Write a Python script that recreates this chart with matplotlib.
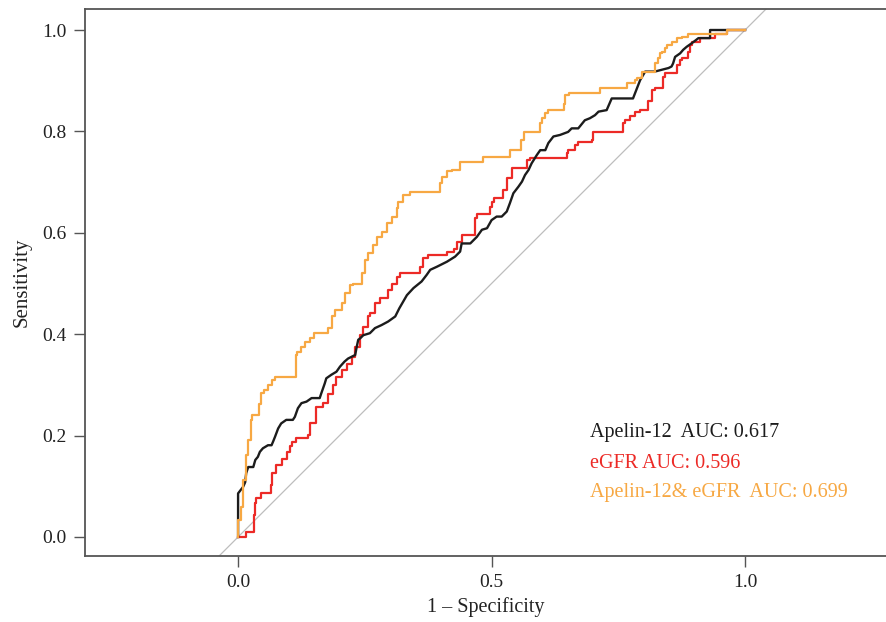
import matplotlib
matplotlib.use("Agg")
import matplotlib.pyplot as plt

plt.rcParams["font.family"] = ["Liberation Serif", "DejaVu Serif"]

# ROC curve points (1 - specificity, sensitivity)
apelin_fpr = [0.0, 0.0, 0.010, 0.014, 0.016, 0.020, 0.030, 0.034, 0.039, 0.043, 0.049, 0.059,
              0.066, 0.069, 0.073, 0.079, 0.085, 0.095, 0.108, 0.112, 0.118, 0.125, 0.135, 0.145,
              0.161, 0.164, 0.171, 0.174, 0.184, 0.194, 0.201, 0.210, 0.217, 0.231, 0.234, 0.237,
              0.241, 0.247, 0.260, 0.270, 0.283, 0.296, 0.310, 0.318, 0.333, 0.346, 0.362, 0.372,
              0.379, 0.392, 0.412, 0.428, 0.438, 0.441, 0.458, 0.471, 0.481, 0.491, 0.500, 0.510,
              0.520, 0.530, 0.536, 0.543, 0.553, 0.560, 0.566, 0.573, 0.579, 0.589, 0.596, 0.606,
              0.612, 0.622, 0.635, 0.651, 0.658, 0.671, 0.684, 0.694, 0.704, 0.711, 0.727, 0.737,
              0.779, 0.793, 0.803, 0.822, 0.849, 0.855, 0.858, 0.862, 0.872, 0.878, 0.885, 0.895,
              0.903, 0.908, 0.931, 0.931, 1.0]
apelin_tpr = [0.0, 0.086, 0.099, 0.108, 0.126, 0.138, 0.138, 0.152, 0.158, 0.168, 0.175, 0.181,
              0.181, 0.188, 0.198, 0.214, 0.224, 0.231, 0.231, 0.237, 0.254, 0.264, 0.267, 0.274,
              0.274, 0.283, 0.303, 0.313, 0.320, 0.326, 0.336, 0.346, 0.352, 0.359, 0.375, 0.389,
              0.392, 0.398, 0.402, 0.412, 0.418, 0.425, 0.435, 0.451, 0.477, 0.491, 0.504, 0.517,
              0.527, 0.533, 0.543, 0.553, 0.563, 0.579, 0.579, 0.592, 0.606, 0.609, 0.625, 0.632,
              0.632, 0.642, 0.658, 0.678, 0.691, 0.701, 0.714, 0.724, 0.737, 0.753, 0.763, 0.763,
              0.777, 0.790, 0.793, 0.799, 0.806, 0.806, 0.822, 0.826, 0.832, 0.839, 0.842, 0.865,
              0.865, 0.901, 0.918, 0.918, 0.925, 0.928, 0.934, 0.947, 0.954, 0.961, 0.967, 0.974,
              0.980, 0.984, 0.984, 1.0, 1.0]

egfr_fpr = [0.0, 0.016, 0.016, 0.031, 0.034, 0.036, 0.045, 0.052, 0.064, 0.067, 0.075, 0.087,
            0.097, 0.103, 0.107, 0.115, 0.138, 0.141, 0.154, 0.168, 0.178, 0.187, 0.194, 0.204,
            0.214, 0.224, 0.231, 0.241, 0.247, 0.257, 0.260, 0.270, 0.280, 0.296, 0.303, 0.313,
            0.320, 0.333, 0.359, 0.365, 0.375, 0.412, 0.425, 0.431, 0.441, 0.444, 0.467, 0.471,
            0.477, 0.497, 0.500, 0.504, 0.523, 0.530, 0.540, 0.540, 0.569, 0.576, 0.579, 0.648,
            0.651, 0.665, 0.671, 0.698, 0.701, 0.724, 0.760, 0.763, 0.773, 0.783, 0.793, 0.809,
            0.816, 0.822, 0.839, 0.842, 0.865, 0.872, 0.875, 0.888, 0.892, 0.895, 0.898, 0.911,
            0.915, 0.941, 0.941, 0.964, 0.964, 1.0]
egfr_tpr = [0.0, 0.0, 0.010, 0.010, 0.043, 0.067, 0.076, 0.086, 0.086, 0.103, 0.126, 0.142,
            0.154, 0.168, 0.179, 0.188, 0.195, 0.201, 0.224, 0.257, 0.264, 0.283, 0.300, 0.316,
            0.329, 0.341, 0.355, 0.375, 0.398, 0.415, 0.435, 0.441, 0.461, 0.471, 0.487, 0.500,
            0.513, 0.520, 0.520, 0.533, 0.550, 0.556, 0.563, 0.569, 0.582, 0.596, 0.596, 0.629,
            0.638, 0.638, 0.651, 0.661, 0.668, 0.684, 0.708, 0.724, 0.727, 0.744, 0.747, 0.747,
            0.757, 0.763, 0.773, 0.780, 0.783, 0.799, 0.799, 0.816, 0.822, 0.830, 0.839, 0.842,
            0.859, 0.882, 0.885, 0.908, 0.915, 0.931, 0.941, 0.944, 0.957, 0.970, 0.977, 0.977,
            0.984, 0.984, 0.990, 0.993, 1.0, 1.0]

combo_fpr = [0.0, 0.005, 0.010, 0.016, 0.020, 0.025, 0.028, 0.033, 0.041, 0.045, 0.051, 0.059,
             0.066, 0.073, 0.079, 0.115, 0.116, 0.124, 0.132, 0.142, 0.149, 0.158, 0.178, 0.185,
             0.191, 0.205, 0.211, 0.221, 0.227, 0.244, 0.250, 0.257, 0.267, 0.274, 0.283, 0.293,
             0.303, 0.313, 0.316, 0.326, 0.339, 0.346, 0.398, 0.402, 0.412, 0.421, 0.438, 0.441,
             0.484, 0.487, 0.536, 0.536, 0.559, 0.563, 0.566, 0.596, 0.599, 0.606, 0.612, 0.622,
             0.642, 0.645, 0.652, 0.655, 0.714, 0.714, 0.767, 0.770, 0.783, 0.786, 0.796, 0.803,
             0.822, 0.829, 0.832, 0.836, 0.842, 0.846, 0.855, 0.865, 0.875, 0.888, 0.898, 0.964,
             0.964, 1.0]
combo_tpr = [0.0, 0.034, 0.060, 0.112, 0.162, 0.191, 0.231, 0.241, 0.241, 0.262, 0.284, 0.290,
             0.300, 0.310, 0.316, 0.316, 0.359, 0.365, 0.375, 0.385, 0.392, 0.402, 0.402, 0.412,
             0.435, 0.448, 0.461, 0.481, 0.497, 0.500, 0.520, 0.546, 0.560, 0.576, 0.592, 0.602,
             0.619, 0.632, 0.648, 0.661, 0.675, 0.681, 0.681, 0.698, 0.711, 0.721, 0.724, 0.740,
             0.740, 0.750, 0.750, 0.763, 0.763, 0.783, 0.799, 0.799, 0.816, 0.826, 0.836, 0.842,
             0.842, 0.855, 0.872, 0.875, 0.875, 0.885, 0.885, 0.895, 0.895, 0.901, 0.905, 0.918,
             0.918, 0.934, 0.944, 0.954, 0.957, 0.964, 0.970, 0.977, 0.984, 0.987, 0.993, 0.993,
             1.0, 1.0]

labels = ["Apelin-12  AUC: 0.617", "eGFR AUC: 0.596", "Apelin-12& eGFR  AUC: 0.699"]
colors = ["#1c1c1c", "#ec2a26", "#f7a843"]

fig = plt.figure(figsize=(8.87, 6.22), dpi=100)
ax = fig.add_axes([0.0958, 0.1061, 0.9042, 0.8794])

xlim = (-0.302, 1.280)
ylim = (-0.0375, 1.0414)

# chance line across the whole panel
ax.plot([-0.1, 1.1], [-0.1, 1.1], color="#bdbdbd", lw=0.9, zorder=1)

ax.plot(apelin_fpr, apelin_tpr, color=colors[0], lw=1.7, zorder=3)
ax.plot(egfr_fpr, egfr_tpr, color=colors[1], lw=1.6, drawstyle="steps-pre", zorder=2)
ax.plot(combo_fpr, combo_tpr, color=colors[2], lw=1.6, drawstyle="steps-pre", zorder=4)

ax.set_xlim(*xlim)
ax.set_ylim(*ylim)

ax.set_xticks([0.0, 0.5, 1.0])
ax.set_xticklabels(["0.0", "0.5", "1.0"])
ax.set_yticks([0.0, 0.2, 0.4, 0.6, 0.8, 1.0])
ax.set_yticklabels(["0.0", "0.2", "0.4", "0.6", "0.8", "1.0"])
ax.tick_params(direction="out", length=8, width=1.0, color="#555555",
               labelsize=14, labelcolor="#222222", pad=5)

for side in ["left", "top", "bottom"]:
    ax.spines[side].set_color("#555555")
    ax.spines[side].set_linewidth(1.3)
ax.spines["right"].set_visible(False)

ax.set_xlabel("1 – Specificity", fontsize=14.5, color="#222222", labelpad=4)
ax.set_ylabel("Sensitivity", fontsize=15, color="#222222", labelpad=8)

text_y = [0.207, 0.144, 0.087]
for lab, col, ty in zip(labels, colors, text_y):
    ax.text(0.694, ty, lab, color=col, fontsize=14.5, va="center", ha="left")

fig.savefig("out.png", dpi=100)
